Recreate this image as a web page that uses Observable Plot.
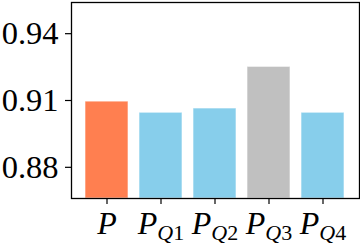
<!DOCTYPE html>
<html>
<head>
<meta charset="utf-8">
<script src="https://cdn.jsdelivr.net/npm/d3@7"></script>
<script src="https://cdn.jsdelivr.net/npm/@observablehq/plot@0.6"></script>
<style>
  html, body { margin: 0; padding: 0; background: #fff; }
  #chart svg { display: block; }
</style>
</head>
<body>
<div id="chart"></div>
<script>
// Data
const categories = ["P", "P_Q1", "P_Q2", "P_Q3", "P_Q4"];
const values = [0.9095, 0.9045, 0.9064, 0.9251, 0.9045];
const groups = ["full", "quarter", "quarter", "highlight", "quarter"];
const yTicks = [0.88, 0.91, 0.94];
const yDomain = [0.866, 0.954];

const data = categories.map((c, i) => ({ cat: c, value: values[i], group: groups[i] }));

const chart = Plot.plot({
  width: 360,
  height: 247,
  marginLeft: 71,
  marginRight: 1,
  marginTop: 2,
  marginBottom: 49,
  style: { fontFamily: "'Liberation Serif', 'DejaVu Serif', serif", background: "#fff", color: "#000" },
  x: { domain: categories, paddingInner: 0.2, paddingOuter: 0.24 },
  y: { domain: yDomain },
  color: { domain: ["full", "quarter", "highlight"], range: ["#FF7F50", "#87CEEB", "#C0C0C0"] },
  marks: [
    Plot.barY(data, {
      x: "cat", y1: yDomain[0], y2: "value", fill: "group",
      stroke: "white", strokeWidth: 1, strokeOpacity: 0.6, inset: 0
    }),
    Plot.axisY({
      ticks: yTicks, tickFormat: d3.format(".2f"), tickSize: 6, tickPadding: 7,
      fontSize: 32.5, label: null, strokeWidth: 1.2
    }),
    Plot.axisX({
      tickSize: 6, tickPadding: 7, fontSize: 32, label: null, strokeWidth: 1.2,
      tickFormat: d => d
    }),
    Plot.frame({ stroke: "#000", strokeWidth: 1.3 })
  ]
});

document.getElementById("chart").appendChild(chart);

// Render x tick labels as math-style P with subscripts
const NS = "http://www.w3.org/2000/svg";
chart.querySelectorAll('g[aria-label="x-axis tick label"] text').forEach(t => {
  const label = t.textContent;
  const [main, sub] = label.split("_");
  while (t.firstChild) t.removeChild(t.firstChild);
  const m = document.createElementNS(NS, "tspan");
  m.setAttribute("font-style", "italic");
  m.textContent = main;
  t.appendChild(m);
  if (sub) {
    const q = document.createElementNS(NS, "tspan");
    q.setAttribute("font-style", "italic");
    q.setAttribute("font-size", "22");
    q.setAttribute("dy", "6");
    q.textContent = sub[0];
    t.appendChild(q);
    const n = document.createElementNS(NS, "tspan");
    n.setAttribute("font-size", "22");
    n.textContent = sub.slice(1);
    t.appendChild(n);
  }
});
</script>
</body>
</html>
